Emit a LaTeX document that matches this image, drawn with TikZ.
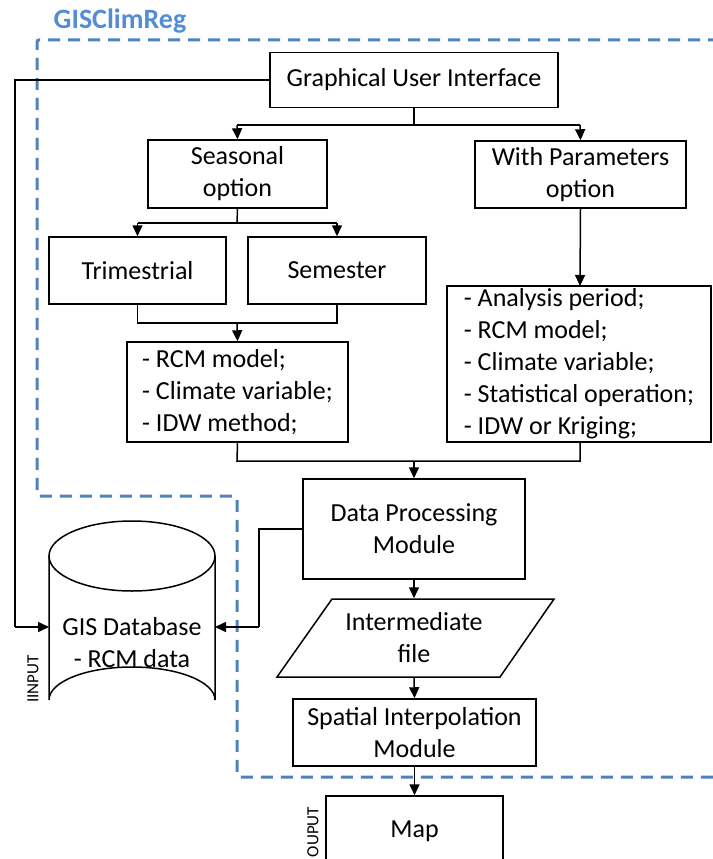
\documentclass[tikz,border=0pt]{standalone}
\usepackage{fontspec}
\setmainfont{Carlito}
\usetikzlibrary{arrows.meta}
\definecolor{dashblue}{RGB}{79,129,189}
\definecolor{titleblue}{RGB}{84,141,212}
\begin{document}
\begin{tikzpicture}[x=1pt,y=-1pt,
  box/.style={draw=black,line width=1.5pt,inner sep=0pt,align=center,font=\fontsize{26}{32}\selectfont},
  lst/.style={box,align=left},
  conn/.style={line width=1.5pt},
  arr/.style={conn,-{Triangle[length=11pt,width=10pt]}},
  sidelbl/.style={font=\fontsize{17}{17}\selectfont,rotate=90,inner sep=0pt}
]
\useasboundingbox (0,0) rectangle (712,859);
% title and dashed border
\node[font=\fontsize{28}{28}\selectfont\bfseries,text=titleblue,inner sep=0pt] (title) at (120,21) {GISClimReg};
\draw[dashblue,line width=3pt,dash pattern=on 12pt off 8pt,rounded corners=2pt]
  (720,40) -- (37,40) -- (37,496) -- (237,496) -- (237,777) -- (720,777);
% nodes
\node[box,minimum width=288,minimum height=55] (gui) at (414,80) {Graphical User Interface};
\node[box,minimum width=179,minimum height=68] (seas) at (237.5,174) {Seasonal\\option};
\node[box,minimum width=211,minimum height=67] (wpar) at (580.5,174.5) {With Parameters\\option};
\node[box,minimum width=177,minimum height=67] (trim) at (137.5,270.5) {Trimestrial};
\node[box,minimum width=178,minimum height=67] (sem) at (337,270.5) {Semester};
\node[lst,minimum width=221,minimum height=100] (rcm) at (237.5,392) {- RCM model;\\- Climate variable;\\- IDW method;};
\node[lst,minimum width=264,minimum height=156] (par) at (579,364) {- Analysis period;\\- RCM model;\\- Climate variable;\\- Statistical operation;\\- IDW or Kriging;};
\node[box,minimum width=222,minimum height=100] (dp) at (414,529) {Data Processing\\Module};
\draw[line width=1.5pt] (332,599) -- (554,599) -- (500,677) -- (277,677) -- cycle;
\node[box,draw=none,minimum width=150,minimum height=78] (inter) at (414,638) {Intermediate\\file};
\node[box,minimum width=243,minimum height=67] (spat) at (414.5,732.5) {Spatial Interpolation\\Module};
\node[box,minimum width=177,minimum height=70] (map) at (414.5,831) {Map};
% cylinder
\draw[line width=1.5pt] (132,556) ellipse [x radius=83, y radius=35];
\draw[line width=1.5pt] (49,556) -- (49,700) arc[start angle=180,end angle=360,x radius=83,y radius=33] -- (215,556);
\node[box,draw=none] (db) at (132,643) {GIS Database\\- RCM data};
\coordinate (dbL) at (49,627);
\coordinate (dbR) at (215,627);
\node[sidelbl] (inlbl) at (33,679) {IINPUT};
\node[sidelbl] (outlbl) at (313,832) {OUPUT};
% connectors
\draw[conn] (gui.west) -- (15,80) -- (15,627);
\draw[arr] (15,627) -- (dbL);
\draw[conn] (gui.south) -- (414,125);
\draw[conn] (237,125) -- (580,125);
\draw[arr] (237,125) -- (seas.north);
\draw[arr] (580,125) -- (wpar.north);
\draw[conn] (seas.south) -- (237,223);
\draw[conn] (137.5,223) -- (337,223);
\draw[arr] (137.5,223) -- (trim.north);
\draw[arr] (337,223) -- (sem.north);
\draw[conn] (trim.south) -- (137.5,323) -- (337,323) -- (sem.south);
\draw[arr] (237,323) -- (rcm.north);
\draw[arr] (wpar.south) -- (580,286);
\draw[conn] (rcm.south) -- (237,461) -- (580,461) -- (580,442);
\draw[arr] (414,461) -- (dp.north);
\draw[conn] (dp.west) -- (259,529) -- (259,627);
\draw[arr] (259,627) -- (dbR);
\draw[arr] (dp.south) -- (inter.north);
\draw[arr] (inter.south) -- (spat.north);
\draw[arr] (spat.south) -- (map.north);
\end{tikzpicture}
\end{document}
